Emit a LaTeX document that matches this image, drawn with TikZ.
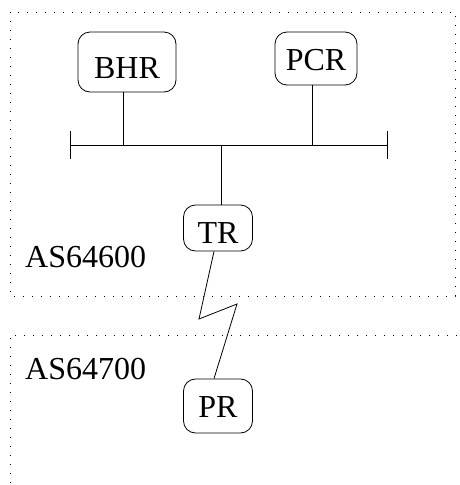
\documentclass[tikz,border=0pt]{standalone}
\usepackage{fontspec}
\setmainfont{Liberation Serif}
\usetikzlibrary{positioning}

\tikzset{
  router/.style={draw,line width=0.8pt,rounded corners=12pt,inner sep=0pt,
    text depth=0pt,font=\fontsize{32}{38}\selectfont},
  asbox/.style={line width=1pt,dash pattern=on 1.2pt off 7.8pt},
  aslabel/.style={anchor=west,inner sep=0pt,font=\fontsize{32}{38}\selectfont},
  wire/.style={line width=0.8pt,black}
}

\begin{document}
\begin{tikzpicture}[x=1pt,y=-1pt]
    \useasboundingbox (0,0) rectangle (459,485);
    % AS boundaries
    \draw[asbox] (10,12) rectangle (455,296);
    \draw[asbox] (457,335) -- (10,335) -- (10,485);
    \node[aslabel] (as600) at (25,257) {AS64600};
    \node[aslabel] (as700) at (25,369) {AS64700};
    % Routers
    \node[router,minimum width=98,minimum height=60,text height=33pt] (BHR) at (127,62) {BHR};
    \node[router,minimum width=82,minimum height=53,text height=24pt] (PCR) at (316,58.5) {PCR};
    \node[router,minimum width=69,minimum height=46,text height=31pt] (TR) at (218,228) {TR};
    \node[router,minimum width=69,minimum height=54,text height=23pt] (PR) at (218,406) {PR};
    % Bus
    \coordinate (busL) at (70,145);
    \coordinate (busR) at (387,145);
    \draw[wire] (busL) -- (busR);
    \draw[wire] ([yshift=-14]busL) -- ([yshift=14]busL);
    \draw[wire] ([yshift=-14]busR) -- ([yshift=14]busR);
    \draw[wire] (BHR.south -| 123,0) -- (123,0 |- busL);
    \draw[wire] (PCR.south -| 312,0) -- (312,0 |- busL);
    \draw[wire] ([xshift=3]TR.north) -- ([xshift=3]TR.north |- busL);
    % Serial link
    \coordinate (z1) at (199,319);
    \coordinate (z2) at (237,304);
    \draw[wire] ([xshift=-4]TR.south) -- (z1) -- (z2) -- ([xshift=-4]PR.north);
\end{tikzpicture}
\end{document}
